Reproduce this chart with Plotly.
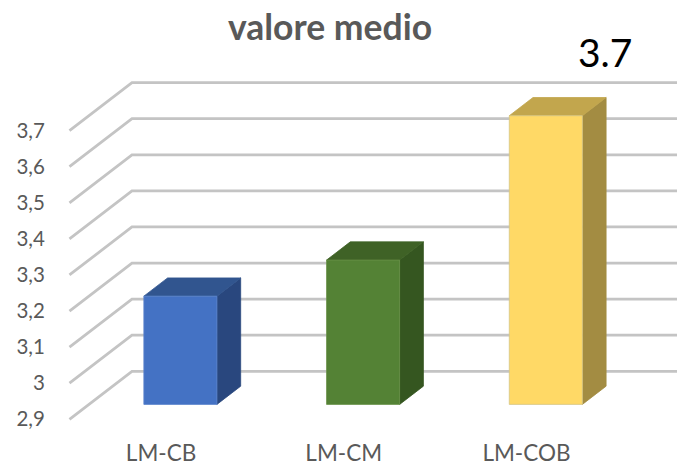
import plotly.graph_objects as go

categories = ["LM-CB", "LM-CM", "LM-COB"]
values = [3.2, 3.3, 3.7]
front_colors = ["#4472c4", "#548235", "#ffd966"]
side_colors = ["#29477e", "#355620", "#a38c42"]
top_colors = ["#31558f", "#3f6226", "#c2a64d"]
edge_colors = ["#5b84cc", "#6a9249", "#d6c788"]
y_ticks = [2.9, 3.0, 3.1, 3.2, 3.3, 3.4, 3.5, 3.6, 3.7]
y_labels = ["2,9", "3", "3,1", "3,2", "3,3", "3,4", "3,5", "3,6", "3,7"]

# fake 3d: depth just shifts a point right (category units) and up (value units)
DEPTH_X = 0.342
DEPTH_Y = 0.133
BAR_HALF = 0.2
BAR_FRONT = 0.31
BAR_BACK = 0.69
BASE = 2.9
WALL_LEFT = -0.501
WALL_RIGHT = 2.9
FONT = "Lato"


def project(cat, val, depth):
    return cat + depth * DEPTH_X, val + depth * DEPTH_Y


def face(points, color, edge=None):
    xy = [project(*p) for p in points]
    xy.append(xy[0])
    return go.Scatter(x=[p[0] for p in xy], y=[p[1] for p in xy], mode="lines",
                      fill="toself", fillcolor=color, line=dict(color=edge or color, width=0.8),
                      hoverinfo="skip", showlegend=False)


fig = go.Figure()

for tick in y_ticks:
    pts = [project(WALL_LEFT, tick, 0), project(WALL_LEFT, tick, 1), project(WALL_RIGHT, tick, 1)]
    fig.add_trace(go.Scatter(x=[p[0] for p in pts], y=[p[1] for p in pts], mode="lines",
                             line=dict(color="#c4c4c4", width=2.8),
                             hoverinfo="skip", showlegend=False))

for i, val in enumerate(values):
    left, right = i - BAR_HALF, i + BAR_HALF
    fig.add_trace(face([(right, BASE, BAR_FRONT), (right, BASE, BAR_BACK),
                        (right, val, BAR_BACK), (right, val, BAR_FRONT)], side_colors[i]))
    fig.add_trace(face([(left, val, BAR_FRONT), (right, val, BAR_FRONT),
                        (right, val, BAR_BACK), (left, val, BAR_BACK)], top_colors[i]))
    fig.add_trace(face([(left, BASE, BAR_FRONT), (right, BASE, BAR_FRONT),
                        (right, val, BAR_FRONT), (left, val, BAR_FRONT)], front_colors[i], edge_colors[i]))

fig.add_annotation(x=2, y=values[2], xref="x", yref="y", text=str(values[2]), showarrow=False,
                   xshift=78.6, yshift=78.7, font=dict(family=FONT, size=39, color="#000000"))

fig.update_layout(
    width=677, height=465,
    margin=dict(l=50, r=0, t=0, b=33, autoexpand=False),
    paper_bgcolor="white", plot_bgcolor="white",
    title=dict(text="<b>valore medio</b>", x=330 / 677, xanchor="center", y=1 - 28 / 465, yanchor="middle",
               font=dict(family=FONT, size=35.5, color="#595959")),
    xaxis=dict(range=[-0.6076, 2.824], tickmode="array", tickvals=list(range(len(categories))),
               ticktext=categories, showgrid=False, zeroline=False, showline=False,
               ticks="outside", ticklen=1, tickcolor="rgba(0,0,0,0)",
               tickfont=dict(family=FONT, size=22.5, color="#595959")),
    yaxis=dict(range=[2.8648, 4.062], tickmode="array", tickvals=y_ticks, ticktext=y_labels,
               showgrid=False, zeroline=False, showline=False,
               ticks="outside", ticklen=0, tickcolor="rgba(0,0,0,0)",
               tickfont=dict(family=FONT, size=20.5, color="#595959")),
)

# the page's default body margin would push the chart 8px off
fig.write_html("out.html", config={"displayModeBar": False},
               post_script="document.body.style.margin='0';")
